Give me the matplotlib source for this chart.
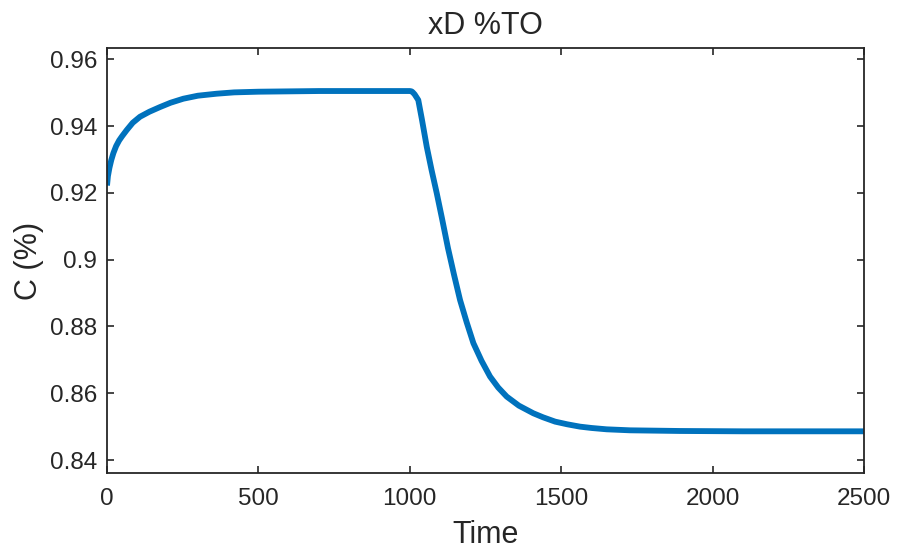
import matplotlib
matplotlib.use("Agg")
import matplotlib.pyplot as plt

plt.rcParams['font.family'] = ['Liberation Sans', 'DejaVu Sans']

time = [0, 3, 8, 14, 21, 30, 40, 50, 65, 85, 109, 140, 175, 210, 252, 300,
        362, 420, 500, 700, 900, 1000, 1006, 1010, 1016, 1028, 1040, 1056,
        1072, 1089, 1106, 1126, 1146, 1166, 1188, 1210, 1237, 1265, 1292,
        1320, 1360, 1408, 1440, 1480, 1520, 1562, 1600, 1650, 1727, 1892,
        2100, 2300, 2500]
conc = [0.9222, 0.9250, 0.9275, 0.9298, 0.9319, 0.9340, 0.9357, 0.9370,
        0.9388, 0.9410, 0.9428, 0.9443, 0.9457, 0.9470, 0.9482, 0.9491,
        0.9497, 0.9501, 0.9503, 0.9505, 0.9505, 0.9505, 0.9504, 0.9501,
        0.9495, 0.9478, 0.9420, 0.9338, 0.9268, 0.9199, 0.9125, 0.9035,
        0.8955, 0.8879, 0.8812, 0.8750, 0.8697, 0.8650, 0.8617, 0.8590,
        0.8563, 0.8540, 0.8528, 0.8515, 0.8507, 0.8500, 0.8496, 0.8492,
        0.8489, 0.8487, 0.8486, 0.8486, 0.8486]
xticks = [0, 500, 1000, 1500, 2000, 2500]
yticks = [0.84, 0.86, 0.88, 0.90, 0.92, 0.94, 0.96]
ytick_labels = ['0.84', '0.86', '0.88', '0.9', '0.92', '0.94', '0.96']

fig = plt.figure(figsize=(8.97, 5.5), dpi=100)
ax = fig.add_axes([0.1193, 0.1405, 0.8439, 0.7717])
ax.plot(time, conc, color='#0072BD', linewidth=4.2, solid_capstyle='butt',
        solid_joinstyle='round')
ax.set_xlim(0, 2500)
ax.set_ylim(0.8362, 0.9633)
ax.set_xticks(xticks)
ax.set_yticks(yticks)
ax.set_yticklabels(ytick_labels)
ax.tick_params(direction='in', length=5, width=1.2, colors='#262626',
               labelsize=17.5, top=True, right=True)
ax.tick_params(axis='x', pad=11)
ax.tick_params(axis='y', pad=7)
for s in ax.spines.values():
    s.set_linewidth(1.3)
    s.set_color('#262626')
ax.set_xlabel('Time', fontsize=22, color='#262626', labelpad=7)
ax.set_ylabel('C (%)', fontsize=22, color='#262626', labelpad=4)
ax.set_title('xD %TO', fontsize=22, color='#262626', pad=10)
fig.savefig('out.png', dpi=100)
